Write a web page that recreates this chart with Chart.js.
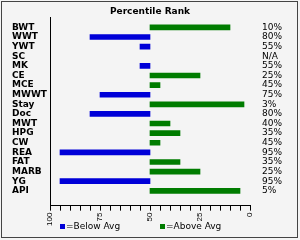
<!DOCTYPE html>
<html>
<head>
<meta charset="utf-8">
<script src="https://cdn.jsdelivr.net/npm/chart.js@4"></script>
<style>
  html, body { margin: 0; padding: 0; background: #f4f4f4; }
  #wrap { width: 300px; height: 240px; }
</style>
</head>
<body>
<div id="wrap"><canvas id="rankChart" width="300" height="240"></canvas></div>
<script>
// traits, percentile rank and the text printed on the right
const traits = ["BWT", "WWT", "YWT", "SC", "MK", "CE", "MCE", "MWWT", "Stay", "Doc",
  "MWT", "HPG", "CW", "REA", "FAT", "MARB", "YG", "API"];
const ranks = [10, 80, 55, null, 55, 25, 45, 75, 3, 80, 40, 35, 45, 95, 35, 25, 95, 5];
const rankLabels = ["10%", "80%", "55%", "N/A", "55%", "25%", "45%", "75%", "3%", "80%",
  "40%", "35%", "45%", "95%", "35%", "25%", "95%", "5%"];
const avg = 50;

// split into the two series (bars start from the average)
const below = [];
const above = [];
ranks.forEach((r, i) => {
  if (r === null) return;
  if (r > avg) below.push({ x: [avg, r], y: i });
  else above.push({ x: [avg, r], y: i });
});

// grey background + thin frame
const frame = {
  id: "frame",
  beforeDraw(chart) {
    const c = chart.ctx;
    c.save();
    c.fillStyle = "#f4f4f4";
    c.fillRect(0, 0, chart.width, chart.height);
    c.strokeStyle = "#444";
    c.lineWidth = 1;
    c.strokeRect(1.5, 1.5, chart.width - 4, chart.height - 4);
    c.restore();
  }
};

// legend: one item under each half of the plot
const halfLegend = {
  id: "halfLegend",
  afterDraw(chart) {
    const c = chart.ctx;
    const a = chart.chartArea;
    const mid = (a.left + a.right) / 2;
    const y = chart.height - 13;
    c.save();
    c.font = "9px 'DejaVu Sans'";
    c.textBaseline = "middle";
    chart.data.datasets.forEach((ds, i) => {
      const x = (i === 0 ? a.left : mid) + 10;
      c.fillStyle = ds.backgroundColor;
      c.fillRect(x, y - 3, 5, 5);
      c.fillStyle = "#000";
      c.fillText(ds.label, x + 6, y);
    });
    c.restore();
  }
};

const catTicks = (scale) => {
  scale.ticks = traits.map((t, i) => ({ value: i }));
};

new Chart(document.getElementById("rankChart"), {
  type: "bar",
  data: {
    datasets: [
      { label: "=Below Avg", data: below, backgroundColor: "#0000d8", barThickness: 5, grouped: false },
      { label: "=Above Avg", data: above, backgroundColor: "#007c00", barThickness: 5, grouped: false }
    ]
  },
  options: {
    indexAxis: "y",
    responsive: false,
    animation: false,
    layout: { padding: { left: 12, right: 12, top: 0, bottom: 12 } },
    scales: {
      x: {
        type: "linear",
        min: 0,
        max: 100,
        reverse: true,
        border: { display: true, color: "#000" },
        grid: { drawOnChartArea: false, drawTicks: true, tickLength: 5, color: "#000" },
        ticks: {
          stepSize: 5,
          autoSkip: false,
          maxRotation: 90,
          minRotation: 90,
          padding: 2,
          color: "#000",
          font: { family: "Liberation Sans", size: 8 },
          callback: (v) => (v % 25 === 0 ? v : "")
        }
      },
      y: {
        type: "linear",
        min: -0.5,
        max: 18,
        reverse: true,
        afterBuildTicks: catTicks,
        afterFit: (s) => { s.width = 38; },
        border: { display: true, color: "#000" },
        grid: { display: false },
        ticks: {
          autoSkip: false,
          crossAlign: "far",
          color: "#000",
          font: { family: "DejaVu Sans", size: 9, weight: "bold" },
          callback: (v) => traits[v]
        }
      },
      y2: {
        type: "linear",
        position: "right",
        min: -0.5,
        max: 18,
        reverse: true,
        afterBuildTicks: catTicks,
        afterFit: (s) => { s.width = 38; },
        border: { display: false },
        grid: { display: false, drawTicks: false },
        ticks: {
          autoSkip: false,
          padding: 12,
          color: "#000",
          font: { family: "DejaVu Sans", size: 9 },
          callback: (v) => rankLabels[v]
        }
      }
    },
    plugins: {
      title: {
        display: true,
        text: "Percentile Rank",
        color: "#000",
        font: { family: "DejaVu Sans", size: 9, weight: "bold" },
        padding: { top: 6, bottom: 0 }
      },
      legend: { display: false },
      tooltip: { enabled: false }
    }
  },
  plugins: [frame, halfLegend]
});
</script>
</body>
</html>
